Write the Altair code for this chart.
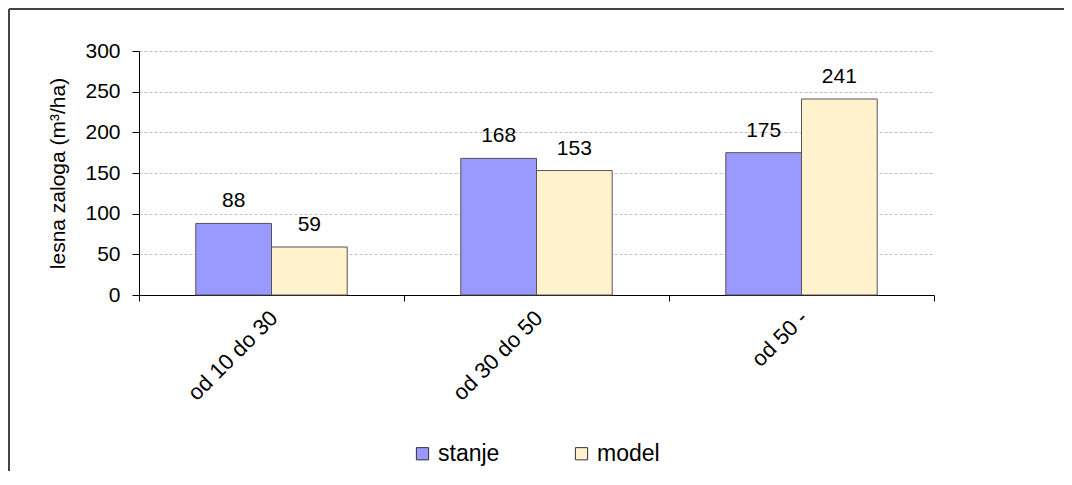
import altair as alt
import pandas as pd

categories = ["od 10 do 30", "od 30 do 50", "od 50 -"]
series = ["stanje", "model"]
stanje = [88, 168, 175]
model = [59, 153, 241]
colors = ["#9999FF", "#FFF2CC"]

rows = []
for i, c in enumerate(categories):
    rows.append({"cat": c, "series": "stanje", "value": stanje[i]})
    rows.append({"cat": c, "series": "model", "value": model[i]})
df = pd.DataFrame(rows)

FONT = "Liberation Sans"

x_enc = alt.X(
    "cat:N",
    sort=categories,
    scale=alt.Scale(paddingInner=0, paddingOuter=0),
    axis=alt.Axis(
        title=None,
        labelAngle=-45,
        labelAlign="right",
        labelBaseline="top",
        labelFontSize=22,
        labelFont=FONT,
        labelColor="black",
        labelPadding=6,
        labelOffset=-5,
        labelLimit=400,
        tickBand="extent",
        tickSize=6,
        tickColor="black",
        domainColor="black",
        grid=False,
    ),
)
xoff = alt.XOffset(
    "series:N", sort=series, scale=alt.Scale(paddingInner=0, paddingOuter=0.75)
)
y_enc = alt.Y(
    "value:Q",
    scale=alt.Scale(domain=[0, 300], nice=False),
    axis=alt.Axis(
        title="lesna zaloga (m³/ha)",
        titleFont=FONT,
        titleFontSize=21,
        titleFontWeight="normal",
        titleColor="black",
        titlePadding=16,
        values=[0, 50, 100, 150, 200, 250, 300],
        labelFont=FONT,
        labelFontSize=21,
        labelColor="black",
        labelPadding=12,
        tickSize=7,
        tickColor="black",
        domainColor="black",
        grid=True,
        gridColor="#c0c0c0",
        gridDash=[3, 2],
        gridWidth=1,
    ),
)

bars = alt.Chart(df).mark_bar(stroke="#555555", strokeWidth=1).encode(
    x=x_enc,
    xOffset=xoff,
    y=y_enc,
    color=alt.Color(
        "series:N",
        sort=series,
        scale=alt.Scale(domain=series, range=colors),
        legend=alt.Legend(
            title=None,
            orient="none",
            direction="horizontal",
            legendX=272,
            legendY=391,
            symbolType="square",
            symbolSize=150,
            symbolStrokeColor="#333333",
            symbolStrokeWidth=1,
            symbolOpacity=1,
            labelFont=FONT,
            labelFontSize=23,
            labelColor="black",
            labelOffset=4,
            columnPadding=70,
        ),
    ),
)

labels = alt.Chart(df).mark_text(
    font=FONT, fontSize=21, color="black", baseline="alphabetic", dy=-16
).encode(
    x=alt.X("cat:N", sort=categories),
    xOffset=alt.XOffset("series:N", sort=series),
    y="value:Q",
    text="value:Q",
)

one = pd.DataFrame({"a": [0]})
border_top = alt.Chart(one).mark_rule(color="#444444", strokeWidth=2).encode(
    x=alt.value(-130), x2=alt.value(925), y=alt.value(-42)
)
border_left = alt.Chart(one).mark_rule(color="#444444", strokeWidth=2).encode(
    x=alt.value(-130), y=alt.value(-42), y2=alt.value(420)
)

chart = (
    alt.layer(bars, labels, border_top, border_left)
    .properties(
        width=795,
        height=244,
        autosize=alt.AutoSizeParams(type="none"),
        padding={"left": 131, "top": 43, "right": 130, "bottom": 176},
        background="white",
    )
    .configure_view(stroke=None)
)

chart.save("out.html", embed_options={"renderer": "svg", "actions": False})
